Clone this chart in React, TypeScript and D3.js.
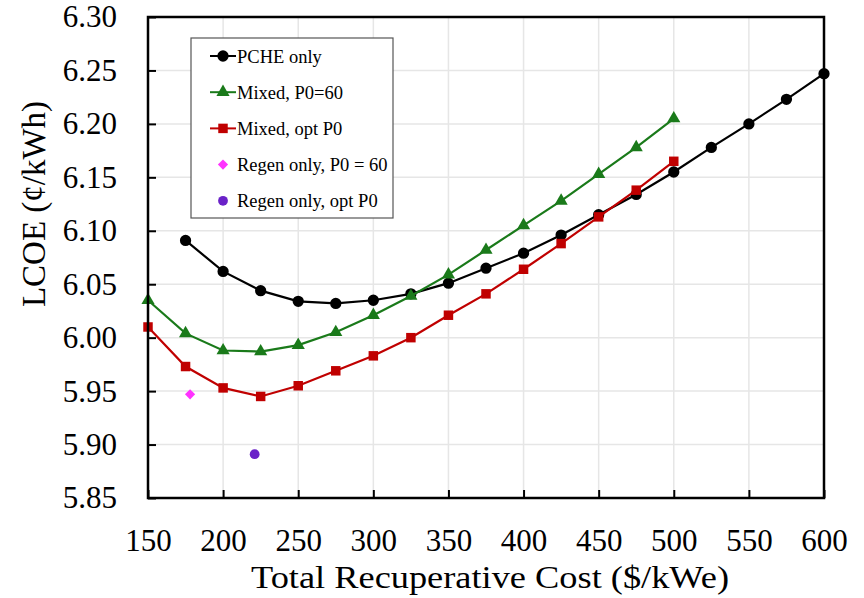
import React, { useEffect, useRef } from "react";
import * as d3 from "d3";

const width = 864;
const height = 598;
const plot = { left: 148, right: 824, top: 17, bottom: 498 };

// values
const pcheX = [175, 200, 225, 250, 275, 300, 325, 350, 375, 400, 425, 450, 475, 500, 525, 550, 575, 600];
const pcheY = [6.091, 6.062, 6.044, 6.034, 6.032, 6.035, 6.041, 6.051, 6.065, 6.079, 6.096, 6.115, 6.134, 6.155, 6.178, 6.2, 6.223, 6.247];

const mixedX = [150, 175, 200, 225, 250, 275, 300, 325, 350, 375, 400, 425, 450, 475, 500];
const mixed60Y = [6.035, 6.004, 5.988, 5.987, 5.993, 6.005, 6.021, 6.039, 6.059, 6.082, 6.105, 6.128, 6.153, 6.178, 6.205];
const mixedOptY = [6.01, 5.973, 5.953, 5.945, 5.955, 5.969, 5.983, 6.0, 6.021, 6.041, 6.064, 6.088, 6.113, 6.138, 6.165];

const regen60 = [178, 5.947];
const regenOpt = [221, 5.891];

const xTicks = [150, 200, 250, 300, 350, 400, 450, 500, 550, 600];
const yTicks = [5.85, 5.9, 5.95, 6.0, 6.05, 6.1, 6.15, 6.2, 6.25, 6.3];

const legendItems = [
  { label: "PCHE only", color: "#000000", shape: "circle", line: true },
  { label: "Mixed, P0=60", color: "#1a7a1a", shape: "triangle", line: true },
  { label: "Mixed, opt P0", color: "#c00000", shape: "square", line: true },
  { label: "Regen only, P0 = 60", color: "#ff33ff", shape: "diamond", line: false },
  { label: "Regen only, opt P0", color: "#6a22c8", shape: "circle2", line: false },
];

const font = "Liberation Serif";

const x = d3.scaleLinear().domain([150, 600]).range([plot.left, plot.right]);
const y = d3.scaleLinear().domain([5.85, 6.3]).range([plot.bottom, plot.top]);

const symbolFor = (shape: string) => {
  if (shape === "triangle") return d3.symbol(d3.symbolTriangle, 75)();
  if (shape === "square") return d3.symbol(d3.symbolSquare, 90)();
  if (shape === "diamond") return d3.symbol(d3.symbolSquare, 52)();
  if (shape === "circle2") return d3.symbol(d3.symbolCircle, 75)();
  return d3.symbol(d3.symbolCircle, 100)();
};

const Marker = ({ cx, cy, shape, color }) => (
  <path
    d={symbolFor(shape)}
    transform={`translate(${cx},${cy})${shape === "diamond" ? " rotate(45)" : ""}`}
    fill={color}
  />
);

export default function App() {
  const xAxisRef = useRef(null);
  const yAxisRef = useRef(null);

  useEffect(() => {
    const xAxis = d3.axisBottom(x).tickValues(xTicks).tickSizeInner(-8).tickSizeOuter(0).tickPadding(31).tickFormat(d3.format("d"));
    const yAxis = d3.axisLeft(y).tickValues(yTicks).tickSizeInner(-8).tickSizeOuter(0).tickPadding(31).tickFormat(d3.format(".2f"));
    const gx = d3.select(xAxisRef.current).call(xAxis);
    const gy = d3.select(yAxisRef.current).call(yAxis);
    [gx, gy].forEach((g) => {
      g.attr("font-family", font).attr("font-size", 31);
      g.select(".domain").remove();
      g.selectAll(".tick line").attr("stroke", "#000").attr("stroke-width", 2);
      g.selectAll(".tick text").attr("fill", "#000").style("font-family", font).style("font-size", "31px");
    });
  }, []);

  const line = (xs: number[], ys: number[]) =>
    d3.line<number>().x((d) => x(d)).y((_, i) => y(ys[i]))(xs);

  const series = [
    { xs: pcheX, ys: pcheY, item: legendItems[0] },
    { xs: mixedX, ys: mixed60Y, item: legendItems[1] },
    { xs: mixedX, ys: mixedOptY, item: legendItems[2] },
  ];

  const lg = { x: 191, y: 38, w: 202, h: 180, rowH: 36.2, first: 56 };

  return (
    <svg width={width} height={height} style={{ position: "absolute", left: 0, top: 0, background: "#fff", fontFamily: font }}>
      <rect x={0} y={0} width={width} height={height} fill="#fff" />
      {/* grid */}
      {xTicks.map((t) => (
        <line key={"gx" + t} x1={x(t)} x2={x(t)} y1={plot.top} y2={plot.bottom} stroke="#e6e6e6" strokeWidth={1.5} />
      ))}
      {yTicks.map((t) => (
        <line key={"gy" + t} x1={plot.left} x2={plot.right} y1={y(t)} y2={y(t)} stroke="#e6e6e6" strokeWidth={1.5} />
      ))}
      <g ref={xAxisRef} transform={`translate(0,${plot.bottom})`} />
      <g ref={yAxisRef} transform={`translate(${plot.left},0)`} />

      {/* series */}
      {series.map((s, si) => (
        <g key={"s" + si}>
          <path d={line(s.xs, s.ys)} fill="none" stroke={s.item.color} strokeWidth={2.2} />
          {s.xs.map((v, i) => (
            <Marker key={i} cx={x(v)} cy={y(s.ys[i])} shape={s.item.shape} color={s.item.color} />
          ))}
        </g>
      ))}
      <Marker cx={x(regen60[0])} cy={y(regen60[1])} shape="diamond" color={legendItems[3].color} />
      <Marker cx={x(regenOpt[0])} cy={y(regenOpt[1])} shape="circle2" color={legendItems[4].color} />

      {/* frame */}
      <rect x={plot.left} y={plot.top} width={plot.right - plot.left} height={plot.bottom - plot.top} fill="none" stroke="#000" strokeWidth={2.5} />

      {/* legend */}
      <rect x={lg.x} y={lg.y} width={lg.w} height={lg.h} fill="#fff" stroke="#555" strokeWidth={1.2} />
      {legendItems.map((it, i) => {
        const cy = lg.first + i * lg.rowH;
        return (
          <g key={"l" + i}>
            {it.line && <line x1={210} x2={236} y1={cy} y2={cy} stroke={it.color} strokeWidth={2} />}
            <Marker cx={223} cy={cy} shape={it.shape} color={it.color} />
            <text x={237} y={cy} dy="0.36em" style={{ fontFamily: font, fontSize: 18.5 }} fill="#000">
              {it.label}
            </text>
          </g>
        );
      })}

      {/* titles */}
      <text
        x={490}
        y={588}
        textAnchor="middle"
        textLength={478}
        lengthAdjust="spacingAndGlyphs"
        style={{ fontFamily: font, fontSize: 32 }}
        fill="#000"
      >
        Total Recuperative Cost ($/kWe)
      </text>
      <text transform="translate(45,204) rotate(-90)" textAnchor="middle" style={{ fontFamily: font, fontSize: 33 }} fill="#000">
        LCOE (¢/kWh)
      </text>
    </svg>
  );
}
